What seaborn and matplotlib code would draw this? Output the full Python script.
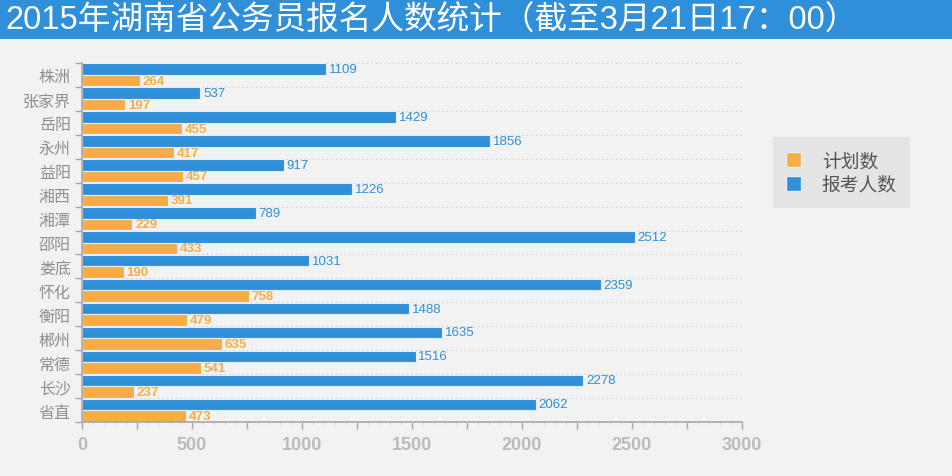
import matplotlib
matplotlib.use("Agg")
import matplotlib.pyplot as plt
import seaborn as sns
import pandas as pd
from matplotlib.patches import Rectangle, Patch
from matplotlib.ticker import MultipleLocator, FuncFormatter

regions = ["株洲", "张家界", "岳阳", "永州", "益阳", "湘西", "湘潭", "邵阳", "娄底",
           "怀化", "衡阳", "郴州", "常德", "长沙", "省直"]
applicants = [1109, 537, 1429, 1856, 917, 1226, 789, 2512, 1031, 2359, 1488, 1635, 1516, 2278, 2062]
planned = [264, 197, 455, 417, 457, 391, 229, 433, 190, 758, 479, 635, 541, 237, 473]
series_names = ["报考人数", "计划数"]
xtick_labels = [0, 500, 1000, 1500, 2000, 2500, 3000]

BLUE = "#2F8FD9"
ORANGE = "#F5AD45"
BG = "#F2F2F2"
GRAY = "#A8A8A8"
NUMFONT = ["Liberation Sans", "DejaVu Sans"]

sns.set_theme(style="white")
plt.rcParams['font.family'] = ['Noto Sans CJK SC', 'DejaVu Sans']

df = pd.DataFrame({
    "region": regions * 2,
    "value": applicants + planned,
    "series": [series_names[0]] * len(regions) + [series_names[1]] * len(regions),
})

fig = plt.figure(figsize=(9.53, 4.77), dpi=100, facecolor=BG)
ax = fig.add_axes([82 / 953, 1 - 423 / 477, 660 / 953, 359 / 477])
ax.set_facecolor(BG)

sns.barplot(data=df, y="region", x="value", hue="series", order=regions,
            hue_order=series_names, palette=[BLUE, ORANGE], orient="h",
            width=0.96, dodge=True, ax=ax, legend=False, errorbar=None,
            edgecolor="#E6EEF5", linewidth=0.8, saturation=1)

# value labels
for cont, color, weight in zip(ax.containers, [BLUE, ORANGE], ["normal", "bold"]):
    ax.bar_label(cont, labels=[str(int(b.get_width())) for b in cont], padding=2,
                 color=color, fontsize=9.5, fontweight=weight, family=NUMFONT)

ax.set_xlim(0, 3000)
ax.set_ylim(len(regions) - 0.5, -0.5)
ax.xaxis.set_major_locator(MultipleLocator(250))
ax.xaxis.set_minor_locator(MultipleLocator(50))
ax.xaxis.set_major_formatter(FuncFormatter(
    lambda v, p: str(int(round(v))) if int(round(v)) in xtick_labels else ""))

# category boundary ticks and dotted grid
bounds = [i - 0.5 for i in range(len(regions) + 1)]
ax.set_yticks(range(len(regions)))
ax.set_yticklabels(regions)
ax.set_yticks(bounds, minor=True)
for b in bounds[:-1]:
    ax.axhline(b, color="#C8C8C8", linestyle=(0, (1, 3)), linewidth=0.8, zorder=0)

ax.tick_params(left=True, bottom=True, which="both")
ax.tick_params(axis="y", which="major", length=0, pad=8, labelsize=11.5, labelcolor="#8F8F8F")
ax.tick_params(axis="y", which="minor", length=5, width=1, color=GRAY, direction="out")
ax.tick_params(axis="x", which="major", length=5, width=1, color=GRAY, direction="out",
               labelsize=13, labelcolor="#BBBBBB", pad=5)
ax.tick_params(axis="x", which="minor", length=1.5, width=0.6, color="#C4C4C4", direction="out")
for lbl in ax.get_xticklabels():
    lbl.set_fontweight("bold")
    lbl.set_family(NUMFONT)

for s in ["top", "right"]:
    ax.spines[s].set_visible(False)
ax.spines["left"].set_color(GRAY)
ax.spines["bottom"].set_color(GRAY)
ax.spines["left"].set_linewidth(1.2)
ax.spines["bottom"].set_linewidth(1.2)
ax.set_xlabel("")
ax.set_ylabel("")

# title bar
fig.patches.append(Rectangle((0, 1 - 40 / 477), 1, 40 / 477, transform=fig.transFigure,
                             facecolor=BLUE, edgecolor="none", zorder=0))
fig.text(5 / 953, 1 - 21 / 477, "2015年湖南省公务员报名人数统计（截至3月21日17：00）",
         color="white", fontsize=23.5, va="center", ha="left",
         family=["Liberation Sans", "Noto Sans CJK SC"])

# legend
handles = [Patch(facecolor=ORANGE, edgecolor="#E6EEF5"), Patch(facecolor=BLUE, edgecolor="#E6EEF5")]
leg = fig.legend(handles, ["计划数", "报考人数"], loc="upper left",
                 bbox_to_anchor=(773 / 953, 1 - 138 / 477), frameon=True,
                 facecolor="#E4E4E4", edgecolor="none", fancybox=False,
                 fontsize=13.5, handlelength=0.8, handleheight=0.8, handletextpad=1.1,
                 borderpad=0.7, labelspacing=0.15, borderaxespad=0)
for t in leg.get_texts():
    t.set_color("#555555")
leg.get_frame().set_alpha(1)

fig.savefig("out.png", dpi=100, facecolor=BG)
